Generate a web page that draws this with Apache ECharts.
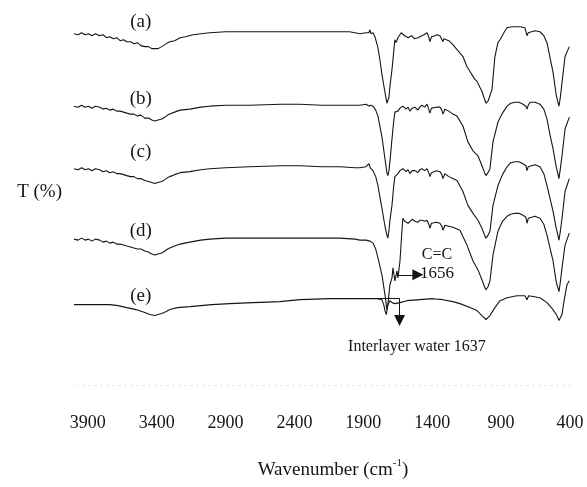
<!DOCTYPE html>
<html>
<head>
<meta charset="utf-8">
<title>FTIR spectra</title>
<script src="https://cdn.jsdelivr.net/npm/echarts@6/dist/echarts.min.js"></script>
<style>
  html, body { margin: 0; padding: 0; background: #fff; }
  #chart { width: 587px; height: 487px; }
</style>
</head>
<body>
<div id="chart"></div>
<script>
// FTIR transmittance spectra, stacked with vertical offsets (arbitrary T units).
// Each point is [wavenumber (cm-1), T].
const specA = [[4000,354],[3970,353],[3945,355],[3920,353],[3895,354],[3870,352],[3845,354],[3813,352],[3790,353],[3765,350],[3740,351],[3715,349],[3690,350],[3665,347],[3640,348],[3617,346],[3590,346],[3565,344],[3540,345],[3515,342],[3486,341],[3460,341],[3435,339],[3413,339],[3390,339],[3363,341],[3340,343],[3320,345],[3305,346],[3270,347],[3230,350],[3190,351],[3138,353],[3080,354],[3014,355],[2900,356],[2796,356],[2500,356],[2200,356],[2000,356],[1925,354],[1880,355],[1860,355],[1852,358],[1845,354],[1830,355],[1816,351],[1794,340],[1780,328],[1765,313],[1743,295],[1729,284],[1722,283],[1714,290],[1707,301],[1692,318],[1680,335],[1671,348],[1663,345],[1656,346],[1649,350],[1640,352],[1625,355],[1613,355],[1600,352],[1590,354],[1575,350],[1562,348],[1550,352],[1540,351],[1530,349],[1520,351],[1504,350],[1490,352],[1475,352],[1460,353],[1450,351],[1438,355],[1428,352],[1417,346],[1405,351],[1395,353],[1380,352],[1365,353],[1344,352],[1330,350],[1322,346],[1315,349],[1308,350],[1280,347],[1250,343],[1220,338],[1177,331],[1148,321],[1126,316],[1104,311],[1090,308],[1075,306],[1054,300],[1039,296],[1025,290],[1010,284],[995,286],[988,288],[966,298],[945,331],[923,345],[908,348],[880,355],[857,360],[820,361],[763,361],[727,360],[718,358],[712,352],[703,355],[698,357],[654,357],[618,356],[590,352],[567,345],[545,330],[523,315],[501,293],[488,285],[480,281],[470,290],[458,305],[436,331],[405,341]];

const specB = [[4000,281],[3970,280],[3945,282],[3920,280],[3895,281],[3870,279],[3845,281],[3813,280],[3790,278],[3765,279],[3740,277],[3715,278],[3690,276],[3665,276],[3640,275],[3617,274],[3590,273],[3565,273],[3540,271],[3515,272],[3486,269],[3460,269],[3435,267],[3413,266],[3390,267],[3363,268],[3340,270],[3320,272],[3305,273],[3270,275],[3230,277],[3159,278],[3080,280],[3014,281],[2900,282],[2724,282],[2500,283],[2361,283],[2200,282],[2070,282],[1960,282],[1925,282],[1880,283],[1867,285],[1860,281],[1845,282],[1830,281],[1810,277],[1794,271],[1765,250],[1743,228],[1729,214],[1722,211],[1714,216],[1707,225],[1692,248],[1680,265],[1671,275],[1660,277],[1649,276],[1634,279],[1613,281],[1590,278],[1575,280],[1562,276],[1545,279],[1525,280],[1505,277],[1490,280],[1475,282],[1455,280],[1438,283],[1425,278],[1417,274],[1405,279],[1395,281],[1370,280],[1344,280],[1330,277],[1322,273],[1308,278],[1280,276],[1250,273],[1220,271],[1177,261],[1141,245],[1104,236],[1068,231],[1039,221],[1020,214],[1010,211],[995,214],[981,218],[959,245],[923,265],[890,274],[857,281],[830,284],[799,285],[770,285],[741,283],[720,281],[712,278],[703,282],[690,285],[654,285],[618,283],[590,278],[567,268],[545,252],[523,238],[500,220],[480,208],[470,218],[458,231],[436,258],[405,270]];

const specC = [[4000,218],[3970,217],[3945,219],[3920,217],[3895,218],[3870,216],[3845,218],[3813,217],[3790,215],[3765,216],[3740,214],[3715,215],[3690,213],[3665,213],[3640,212],[3617,211],[3590,210],[3565,210],[3540,208],[3515,208],[3486,206],[3460,205],[3435,204],[3413,203],[3390,204],[3363,205],[3340,207],[3320,209],[3305,210],[3270,212],[3230,214],[3159,215],[3080,217],[3014,218],[2900,219],[2724,220],[2500,221],[2361,221],[2200,220],[2070,220],[1960,219],[1925,219],[1880,220],[1860,223],[1850,219],[1838,219],[1830,216],[1810,210],[1794,201],[1765,178],[1743,160],[1729,151],[1722,148],[1714,156],[1707,166],[1692,181],[1680,200],[1671,210],[1660,212],[1649,213],[1634,216],[1613,218],[1590,215],[1575,217],[1562,213],[1545,216],[1525,216],[1505,214],[1490,217],[1475,218],[1455,216],[1438,218],[1425,214],[1417,210],[1405,214],[1395,216],[1370,216],[1344,215],[1330,212],[1322,208],[1308,213],[1280,210],[1250,208],[1220,206],[1177,195],[1141,181],[1104,173],[1068,166],[1039,158],[1020,151],[1010,148],[995,151],[981,155],[959,181],[923,201],[890,212],[857,220],[830,224],[799,225],[770,225],[741,223],[720,221],[712,216],[703,220],[690,222],[654,222],[618,220],[590,213],[567,201],[545,188],[523,175],[500,158],[480,146],[470,155],[458,168],[436,195],[405,208]];

const specD = [[4000,147],[3970,146],[3945,148],[3920,146],[3895,147],[3870,145],[3845,147],[3813,146],[3790,144],[3765,145],[3740,143],[3715,144],[3690,142],[3665,142],[3640,141],[3617,140],[3590,139],[3565,138],[3540,137],[3515,137],[3486,135],[3460,134],[3435,132],[3413,131],[3390,132],[3363,133],[3340,135],[3320,137],[3305,138],[3270,140],[3230,142],[3159,144],[3080,146],[3014,147],[2900,148],[2724,148],[2361,148],[2070,148],[1960,147],[1925,146],[1880,146],[1852,145],[1830,143],[1810,137],[1794,128],[1765,111],[1743,91],[1733,80],[1729,76],[1722,81],[1707,101],[1692,108],[1685,118],[1671,105],[1656,115],[1649,108],[1634,125],[1620,155],[1613,168],[1600,165],[1590,167],[1575,163],[1562,165],[1545,167],[1525,165],[1505,164],[1490,166],[1475,166],[1455,165],[1438,166],[1425,162],[1417,158],[1405,163],[1395,165],[1370,164],[1344,163],[1330,160],[1322,156],[1308,161],[1250,159],[1199,156],[1148,141],[1104,125],[1068,116],[1039,106],[1020,99],[1010,96],[995,99],[981,105],[959,131],[923,155],[890,165],[857,170],[830,172],[799,173],[770,173],[741,171],[720,169],[712,163],[703,168],[690,170],[654,170],[618,168],[590,162],[567,151],[545,138],[523,125],[500,104],[480,94],[470,104],[458,118],[436,141],[405,153]];

const specE = [[4000,81],[3880,81],[3740,81],[3680,80],[3617,78],[3550,76],[3486,73],[3450,71],[3413,70],[3390,71],[3363,72],[3330,74],[3305,76],[3250,78],[3159,79],[3000,81],[2869,82],[2700,83],[2506,84],[2361,86],[2143,87],[1925,87],[1800,87],[1765,86],[1750,80],[1743,75],[1733,71],[1729,71],[1722,81],[1707,85],[1692,83],[1685,81],[1670,82],[1656,82],[1634,83],[1584,85],[1489,86],[1395,87],[1322,86],[1250,84],[1199,82],[1126,78],[1075,75],[1039,70],[1010,66],[981,70],[945,78],[908,85],[857,88],[785,90],[727,90],[712,86],[700,90],[690,90],[618,88],[567,83],[523,76],[495,70],[480,65],[458,71],[443,85],[422,101],[405,105]];

const spectra = [specA, specB, specC, specD, specE];
const sampleNames = ['(a)', '(b)', '(c)', '(d)', '(e)'];
// where each sample letter sits: [wavenumber, T]
const nameSpots = [[3515,366],[3515,288],[3515,235],[3515,155],[3515,90]];
const tickValues = [3900, 3400, 2900, 2400, 1900, 1400, 900, 400];

// band annotations
const ccBand = 1656;      // C=C stretch, marked on (d)
const waterBand = 1637;   // interlayer water, marked on (e)

const FONT = '"Liberation Serif", "Times New Roman", serif';
const INK = '#151515';

const chart = echarts.init(document.getElementById('chart'), null, { renderer: 'canvas' });

const series = spectra.map((data, i) => ({
  type: 'line',
  name: sampleNames[i],
  data: data,
  symbol: 'none',
  showSymbol: false,
  silent: true,
  lineStyle: { color: INK, width: 1.1 },
  markPoint: {
    silent: true,
    symbol: 'circle',
    symbolSize: 1,
    itemStyle: { color: 'transparent' },
    label: { show: true, position: 'inside', color: INK, fontFamily: FONT, fontSize: 19 },
    data: [{ coord: nameSpots[i], label: { formatter: sampleNames[i] } }]
  }
}));

// (d): arrow from the 1656 band towards its label
series[3].markLine = {
  silent: true,
  animation: false,
  symbol: ['none', 'triangle'],
  symbolSize: 11,
  label: { show: false },
  lineStyle: { color: INK, width: 1, type: 'solid' },
  data: [[{ coord: [ccBand, 111] }, { coord: [1504, 111] }]]
};
series[3].markPoint.data.push(
  { coord: [1366, 131], label: { formatter: 'C=C', fontSize: 16 } },
  { coord: [1366, 112], label: { formatter: String(ccBand), fontSize: 17 } }
);

// (e): leader line and downward arrow at the interlayer water band
series[4].markLine = {
  silent: true,
  animation: false,
  label: { show: false },
  lineStyle: { color: INK, width: 1, type: 'solid' },
  data: [
    [{ coord: [1925, 87.3], symbol: 'none' }, { coord: [waterBand, 87.3], symbol: 'none' }],
    [{ coord: [waterBand, 87.3], symbol: 'none' }, { coord: [waterBand, 65], symbol: 'triangle', symbolSize: 11 }]
  ]
};
series[4].markPoint.data.push(
  { coord: [1511, 38], label: { formatter: 'Interlayer water ' + waterBand, fontSize: 16 } }
);

chart.setOption({
  animation: false,
  backgroundColor: '#ffffff',
  grid: { left: 74, right: 17, top: 0, bottom: 99 },
  xAxis: {
    type: 'value',
    inverse: true,
    min: 400,
    max: 4000,
    name: 'Wavenumber (cm{sup|-1})',
    nameLocation: 'middle',
    nameGap: 73,
    nameTextStyle: {
      color: INK, fontFamily: FONT, fontSize: 19, lineHeight: 24,
      padding: [0, 0, 0, 22],
      rich: { sup: { fontFamily: FONT, fontSize: 11, lineHeight: 12, verticalAlign: 'top', color: INK } }
    },
    axisLine: { show: true, lineStyle: { color: '#dcdcdc', width: 1, type: [1, 5] } },
    axisTick: { show: false },
    splitLine: { show: false },
    axisLabel: {
      customValues: tickValues,
      formatter: (v) => String(v),
      color: INK, fontFamily: FONT, fontSize: 18, margin: 29,
      showMinLabel: true, showMaxLabel: true
    }
  },
  yAxis: {
    type: 'value',
    min: 0,
    max: 388,
    name: 'T (%)',
    nameLocation: 'middle',
    nameRotate: 0,
    nameGap: 12,
    nameTextStyle: { color: INK, fontFamily: FONT, fontSize: 19, padding: [0, 0, 24, 0] },
    axisLine: { show: false },
    axisTick: { show: false },
    axisLabel: { show: false },
    splitLine: { show: false }
  },
  series: series
});
</script>
</body>
</html>
